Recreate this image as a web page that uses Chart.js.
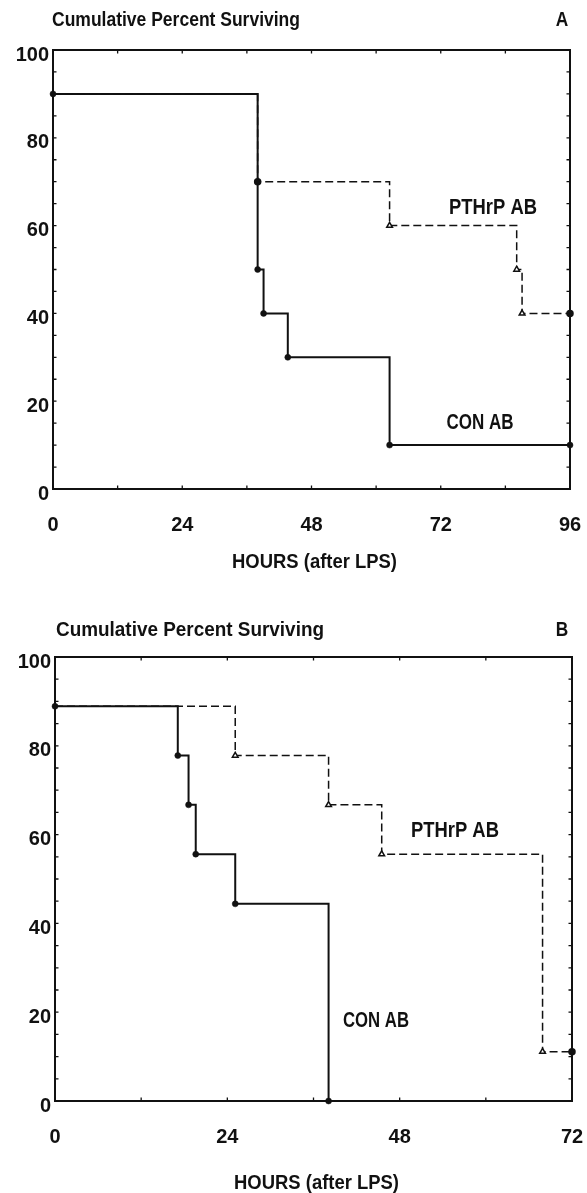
<!DOCTYPE html>
<html><head><meta charset="utf-8">
<script src="https://cdn.jsdelivr.net/npm/chart.js@4.4.1/dist/chart.umd.min.js"></script>
<style>
html,body{margin:0;padding:0;background:#fff;overflow:hidden;width:587px;height:1193px}
.panel{position:absolute;left:0;width:587px}
#pa{top:0;height:596px}
#pb{top:596px;height:620px}
</style></head><body>
<div class="panel" id="pa"><canvas id="ca"></canvas></div>
<div class="panel" id="pb"><canvas id="cb"></canvas></div>
<script>
// ---------- Panel A data ----------
const hoursA_con = [0, 38, 39.1, 43.6, 62.5, 96];
const survA_con  = [90, 50, 40, 30, 10, 10];
const hoursA_pth = [0, 38, 62.5, 86.1, 87.1, 96];
const survA_pth  = [90, 70, 60, 50, 40, 40];
const xLabelsA   = [0, 24, 48, 72, 96];
// ---------- Panel B data ----------
const hoursB_con = [0, 17.1, 18.6, 19.6, 25.1, 38.1];
const survB_con  = [88.9, 77.8, 66.7, 55.6, 44.4, 0];
const hoursB_pth = [0, 25.1, 38.1, 45.5, 67.9, 72];
const survB_pth  = [88.9, 77.8, 66.7, 55.6, 11.1, 11.1];
const xLabelsB   = [0, 24, 48, 72];
// ---------- shared ----------
const yLabels = [0, 20, 40, 60, 80, 100];
const seriesNames = ['CON AB', 'PTHrP AB'];
const yTitle = 'Cumulative Percent Surviving';
const xTitle = 'HOURS (after LPS)';

const INK = '#111';
const SANS = "'Liberation Sans', Arial, sans-serif";

function fitText(ctx, text, x, y, width, font, align) {
  ctx.save();
  ctx.font = font;
  const w = ctx.measureText(text).width;
  ctx.translate(x, y);
  ctx.scale(width / w, 1);
  ctx.textBaseline = 'middle';
  ctx.textAlign = align;
  ctx.fillStyle = INK;
  ctx.fillText(text, 0, 0);
  ctx.restore();
}

const framePlugin = {
  id: 'frame',
  beforeDatasetsDraw(chart) {
    const {ctx, chartArea: a, scales: {x, y}} = chart;
    ctx.save();
    ctx.strokeStyle = INK;
    ctx.lineWidth = 2;
    ctx.strokeRect(a.left, a.top, a.right - a.left, a.bottom - a.top);
    ctx.lineWidth = 1.3;
    ctx.beginPath();
    x.ticks.forEach(t => {
      const p = x.getPixelForValue(t.value);
      ctx.moveTo(p, a.bottom); ctx.lineTo(p, a.bottom - 3.5);
      ctx.moveTo(p, a.top); ctx.lineTo(p, a.top + 3.5);
    });
    y.ticks.forEach(t => {
      const p = y.getPixelForValue(t.value);
      ctx.moveTo(a.left, p); ctx.lineTo(a.left + 3.5, p);
      ctx.moveTo(a.right, p); ctx.lineTo(a.right - 3.5, p);
    });
    ctx.stroke();
    ctx.restore();
  },
  afterDraw(chart, args, o) {
    const {ctx, chartArea: a, scales: {x, y}} = chart;
    fitText(ctx, yTitle, a.left + o.titleDx, a.top - o.titleDy, o.titleW, 'bold 21px ' + SANS, 'left');
    fitText(ctx, o.letter, a.right - o.letterDx, a.top - o.titleDy, 12.5, 'bold 21px ' + SANS, 'center');
    fitText(ctx, xTitle, (a.left + a.right) / 2 + 3, a.bottom + o.xTitleDy, 165, 'bold 21px ' + SANS, 'center');
    o.labels.forEach(l => {
      fitText(ctx, l.text, x.getPixelForValue(l.x), y.getPixelForValue(l.y), l.w, 'bold 22px ' + SANS, 'center');
    });
  }
};

function pts(hs, vs) { return hs.map((h, i) => ({x: h, y: vs[i]})); }

function makeChart(id, cfg) {
  return new Chart(document.getElementById(id), {
    type: 'line',
    data: {
      datasets: [
        {
          label: seriesNames[1], data: pts(cfg.pthH, cfg.pthV), stepped: true,
          borderColor: INK, borderWidth: 1.5, borderDash: [8, 4], fill: false, clip: false,
          pointStyle: cfg.pthStyles, pointRadius: cfg.pthRadius,
          pointBackgroundColor: cfg.pthFill, pointBorderColor: INK, pointBorderWidth: 1.5
        },
        {
          label: seriesNames[0], data: pts(cfg.conH, cfg.conV), stepped: true,
          borderColor: INK, borderWidth: 2, fill: false, clip: false,
          pointStyle: 'circle', pointRadius: 3, pointBackgroundColor: INK,
          pointBorderColor: INK, pointBorderWidth: 0.5
        }
      ]
    },
    options: {
      responsive: true, maintainAspectRatio: false, animation: false,
      layout: {padding: {top: cfg.padTop, right: cfg.padRight, left: 0, bottom: 0}},
      plugins: {
        legend: {display: false}, tooltip: {enabled: false},
        frame: cfg.frame
      },
      scales: {
        x: {
          type: 'linear', min: 0, max: cfg.xmax,
          afterFit: s => { s.height = cfg.xHeight; s.paddingLeft = 0; s.paddingRight = 0; },
          grid: {display: false, drawTicks: false}, border: {display: false},
          ticks: {
            stepSize: 12, autoSkip: false, maxRotation: 0, padding: 24, color: INK,
            font: {family: SANS, size: 20, weight: 'bold'},
            callback: v => cfg.xLabels.includes(v) ? String(v) : ''
          }
        },
        y: {
          type: 'linear', min: 0, max: 100,
          afterFit: s => { s.width = cfg.yWidth; s.paddingTop = 0; s.paddingBottom = 0; },
          grid: {display: false, drawTicks: false}, border: {display: false},
          ticks: {
            stepSize: 5, autoSkip: false, padding: 4, labelOffset: 5, color: INK,
            font: {family: SANS, size: 20, weight: 'bold'},
            callback: v => yLabels.includes(v) ? String(v) : ''
          }
        }
      }
    },
    plugins: [framePlugin]
  });
}

makeChart('ca', {
  conH: hoursA_con, conV: survA_con, pthH: hoursA_pth, pthV: survA_pth,
  pthStyles: ['circle', 'circle', 'triangle', 'triangle', 'triangle', 'circle'],
  pthRadius: [0, 3, 3.3, 3.3, 3.3, 3],
  pthFill: [INK, INK, '#fff', '#fff', '#fff', INK],
  xmax: 96, xLabels: xLabelsA, padTop: 50, padRight: 17, yWidth: 53, xHeight: 107,
  frame: {
    letter: 'A', titleDx: -1, titleDy: 30, titleW: 248, letterDx: 8, xTitleDy: 73,
    labels: [
      {text: 'PTHrP AB', x: 81.7, y: 64.1, w: 88},
      {text: 'CON AB', x: 79.3, y: 15.0, w: 67}
    ]
  }
});

makeChart('cb', {
  conH: hoursB_con, conV: survB_con, pthH: hoursB_pth, pthV: survB_pth,
  pthStyles: ['circle', 'triangle', 'triangle', 'triangle', 'triangle', 'circle'],
  pthRadius: [0, 3.3, 3.3, 3.3, 3.3, 3],
  pthFill: [INK, '#fff', '#fff', '#fff', '#fff', INK],
  xmax: 72, xLabels: xLabelsB, padTop: 61, padRight: 15, yWidth: 55, xHeight: 115,
  frame: {
    letter: 'B', titleDx: 1, titleDy: 27, titleW: 268, letterDx: 10, xTitleDy: 82,
    labels: [
      {text: 'PTHrP AB', x: 55.7, y: 60.9, w: 88},
      {text: 'CON AB', x: 44.7, y: 18.1, w: 66}
    ]
  }
});
</script>
</body></html>
